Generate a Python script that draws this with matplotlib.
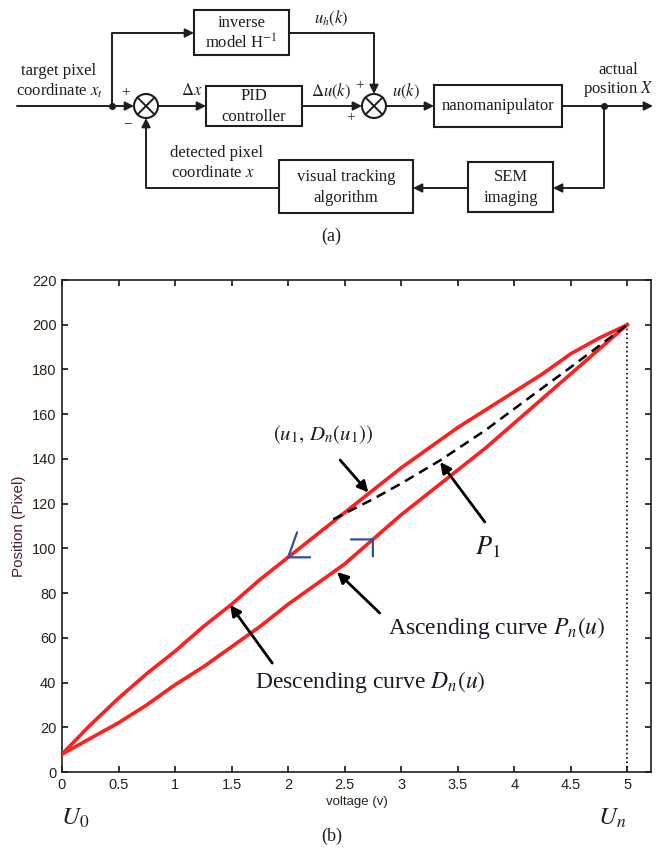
import matplotlib
matplotlib.use("Agg")
import matplotlib.pyplot as plt
from matplotlib.patches import Rectangle, Circle
from matplotlib.transforms import blended_transform_factory

plt.rcParams["mathtext.fontset"] = "stix"
plt.rcParams["font.family"] = ["Liberation Serif", "DejaVu Serif"]

# hysteresis loop (voltage in V, position in pixel)
voltage = [0, 0.25, 0.5, 0.75, 1.0, 1.25, 1.5, 1.75, 2.0, 2.25, 2.5,
           2.75, 3.0, 3.25, 3.5, 3.75, 4.0, 4.25, 4.5, 4.75, 5.0]
descending = [8, 21, 33, 44, 54, 65, 75, 86, 96, 106, 116,
              126, 136, 145, 154, 162, 170, 178, 187, 194, 200]
ascending = [8, 15, 22, 30, 39, 47, 56, 65, 75, 84, 93,
             104, 115, 125, 135, 145, 156, 167, 178, 189, 200]

# first-order ascending curve P1 starting from (u1, Dn(u1))
p1_voltage = [2.4, 2.75, 3.0, 3.35, 3.75, 4.15, 4.5, 5.0]
p1_position = [113, 122, 129, 139.5, 153, 168, 181, 200]

x_ticks = [0, 0.5, 1, 1.5, 2, 2.5, 3, 3.5, 4, 4.5, 5]
x_tick_labels = ["0", "0.5", "1", "1.5", "2", "2.5", "3", "3.5", "4", "4.5", "5"]
y_ticks = [0, 20, 40, 60, 80, 100, 120, 140, 160, 180, 200, 220]

INK = "#1e1e1e"
RED = "#ff1f1f"
BLUE = "#2f4f9f"
W, H = 664, 852

fig = plt.figure(figsize=(W / 100, H / 100), dpi=100)

# ---------------- (a) block diagram, drawn in pixel coordinates ----------------
top_h = 260
ax = fig.add_axes([0, 1 - top_h / H, 1, top_h / H])
ax.set_xlim(0, W)
ax.set_ylim(top_h, 0)
ax.axis("off")

arrow_kw = dict(arrowstyle="-|>", color=INK, lw=1.4, mutation_scale=13,
                shrinkA=0, shrinkB=0)


def wire(pts, arrow=True):
    xs, ys = zip(*pts)
    if arrow:
        ax.plot(xs[:-1], ys[:-1], color=INK, lw=1.4, solid_capstyle="butt")
        ax.annotate("", xy=pts[-1], xytext=pts[-2], arrowprops=arrow_kw)
    else:
        ax.plot(xs, ys, color=INK, lw=1.4)


def box(x0, y0, x1, y1, lines, ys):
    ax.add_patch(Rectangle((x0, y0), x1 - x0, y1 - y0, fill=False, lw=1.5, ec=INK))
    for t, y in zip(lines, ys):
        ax.text((x0 + x1) / 2, y, t, ha="center", va="center", fontsize=12, color=INK)


def summer(cx, cy, r=12):
    ax.add_patch(Circle((cx, cy), r, fill=False, lw=1.5, ec=INK))
    d = r * 0.707
    ax.plot([cx - d, cx + d], [cy - d, cy + d], color=INK, lw=1.4)
    ax.plot([cx - d, cx + d], [cy + d, cy - d], color=INK, lw=1.4)


def label(x, y, t, size=12):
    ax.text(x, y, t, ha="center", va="center", fontsize=size, color=INK)


my = 106
s1, s2, r = 146, 374, 12
summer(s1, my, r)
summer(s2, my, r)

box(194, 10, 289, 55, ["inverse", r"model H$^{\mathrm{-1}}$"], [23, 43])
box(206, 86, 302, 126, ["PID", "controller"], [96, 117])
box(434, 85, 562, 127, ["nanomanipulator"], [106])
box(468, 162, 553, 212, ["SEM", "imaging"], [177, 198])
box(279, 160, 413, 213, ["visual tracking", "algorithm"], [177, 198])

wire([(17, my), (s1 - r, my)])
wire([(112, my), (112, 33), (194, 33)])
wire([(s1 + r, my), (206, my)])
wire([(302, my), (s2 - r, my)])
wire([(289, 33), (s2, 33), (s2, my - r)])
wire([(s2 + r, my), (434, my)])
wire([(562, my), (653, my)])
wire([(604, my), (604, 188), (553, 188)])
wire([(468, 188), (413, 188)])
wire([(279, 188), (s1, 188), (s1, my + r)])
ax.plot([112, 604], [my, my], "o", color=INK, ms=4, ls="none")

label(59, 71, "target pixel")
label(60, 91, r"coordinate $x_t$")
label(126, 93, "+", 11)
label(128, 124, "\u2212", 11)
label(192, 91, r"$\Delta x$")
label(331, 91, r"$\Delta u(k)$")
label(331, 18, r"$u_h(k)$")
label(360, 86, "+", 11)
label(351, 118, "+", 11)
label(406, 91, r"$u(k)$")
label(618, 70, "actual")
label(618, 89, r"position $X$")
label(217, 153, "detected pixel")
label(213, 173, r"coordinate $x$")
label(331, 236, "(a)", 13)

# ---------------- (b) hysteresis loop ----------------
left, right, top, bottom = 62, 651, 280, 772
ax2 = fig.add_axes([left / W, 1 - bottom / H, (right - left) / W, (bottom - top) / H])
ax2.set_xlim(0, 5.21)
ax2.set_ylim(0, 220)

ax2.plot(voltage, descending, color=RED, lw=2.6, zorder=3)
ax2.plot(voltage, ascending, color=RED, lw=2.6, zorder=3)
ax2.plot(p1_voltage, p1_position, color="k", lw=1.8, ls=(0, (4, 2.5)), zorder=4)
ax2.plot([voltage[-1], voltage[-1]], [0, descending[-1]], color="k", lw=1.2, ls=":", zorder=2)

ax2.set_xticks(x_ticks, x_tick_labels)
ax2.set_yticks(y_ticks)
ax2.tick_params(direction="in", top=True, right=True, length=4.5, width=1.1,
                labelsize=10.5, pad=4, labelcolor="#2a2018")
for t in ax2.get_xticklabels() + ax2.get_yticklabels():
    t.set_fontfamily("Liberation Sans")
for s in ax2.spines.values():
    s.set_linewidth(1.2)
    s.set_color(INK)

ax2.set_ylabel("Position (Pixel)", fontsize=11, family="Liberation Sans",
               color="#4b1c3c", labelpad=4)
ax2.set_xlabel("voltage (v)", fontsize=9.5, family="Liberation Sans",
               color="#2a2018", labelpad=3)

# direction chevrons
chev = dict(arrowstyle="-", color=BLUE, lw=1.6, shrinkA=0, shrinkB=0)
v_up = (voltage[8], descending[8])
v_lo = (voltage[11], ascending[11])
for d in [(9, 25), (22, 0)]:
    ax2.annotate("", xy=v_up, xytext=d, textcoords="offset pixels", arrowprops=chev)
for d in [(-22, 0), (0, -17)]:
    ax2.annotate("", xy=v_lo, xytext=d, textcoords="offset pixels", arrowprops=chev)

# black pointer arrows
ptr = dict(arrowstyle="-|>", color="k", lw=2, mutation_scale=16, shrinkA=0, shrinkB=0)
txt = "#1a1a24"
ax2.annotate("", xy=(2.71, 125), xytext=(2.46, 139.5), arrowprops=ptr)
ax2.text(2.31, 150.7, r"$(u_1,\, D_n(u_1))$", fontsize=15, ha="center", va="center", color=txt)

ax2.annotate("", xy=(3.345, 138.6), xytext=(3.74, 111.8), arrowprops=ptr)
ax2.text(3.77, 100.6, r"$P_1$", fontsize=19, ha="center", va="center", color=txt)

ax2.annotate("", xy=(2.434, 89.4), xytext=(2.81, 71.1), arrowprops=ptr)
ax2.text(3.85, 64.4, r"Ascending curve $P_n(u)$", fontsize=17, ha="center", va="center", color=txt)

ax2.annotate("", xy=(1.487, 74.7), xytext=(1.86, 48.7), arrowprops=ptr)
ax2.text(2.73, 40.3, r"Descending curve $D_n(u)$", fontsize=17, ha="center", va="center", color=txt)

bt = blended_transform_factory(ax2.transData, fig.transFigure)
ax2.text(0.115, 1 - 818 / H, r"$\mathit{U_0}$", transform=bt, fontsize=18,
         ha="center", va="center", color=INK, clip_on=False)
ax2.text(4.87, 1 - 818 / H, r"$\mathit{U_n}$", transform=bt, fontsize=18,
         ha="center", va="center", color=INK, clip_on=False)
fig.text(332 / W, 1 - 836 / H, "(b)", fontsize=13, ha="center", va="center", color=INK)

fig.savefig("out.png", dpi=100)
